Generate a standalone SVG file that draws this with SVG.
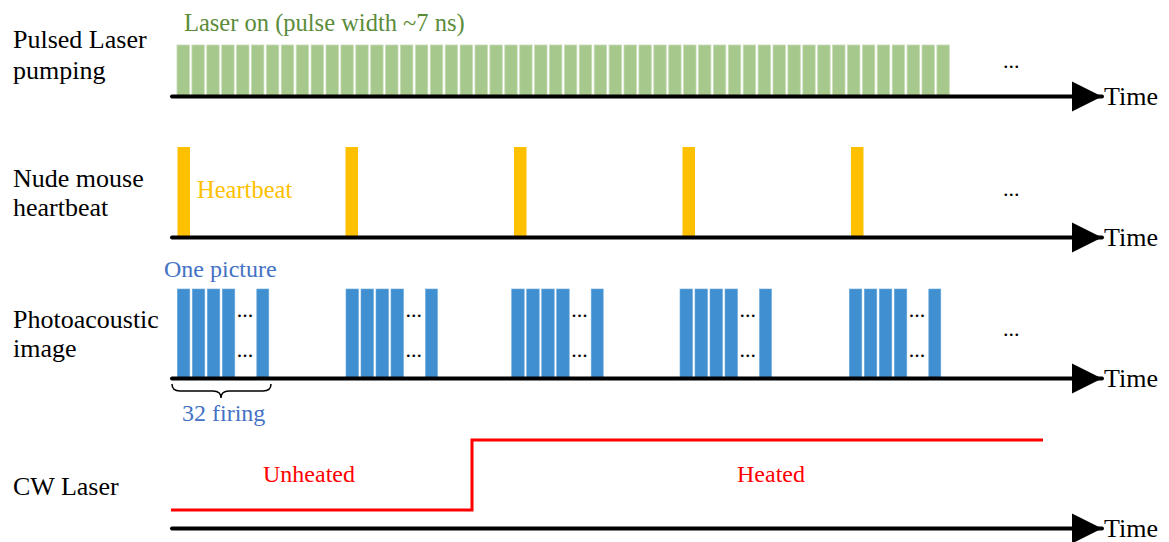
<svg xmlns="http://www.w3.org/2000/svg" width="1169" height="542" viewBox="0 0 1169 542" font-family="Liberation Serif">
<defs>
<style>
.lbl{font-family:"Liberation Serif",serif;font-size:26px;fill:#000}
.dots{font-family:"Liberation Serif",serif;font-size:22px;fill:#000}
.grn{font-family:"Liberation Serif",serif;font-size:24.5px;fill:#5B8C3A}
.org{font-family:"Liberation Serif",serif;font-size:24.5px;fill:#FFC000}
.blu{font-family:"Liberation Serif",serif;font-size:24px;fill:#4472C4}
.rt{font-family:"Liberation Serif",serif;font-size:24px;fill:#FF0000}
.axis{stroke:#000;stroke-width:4;stroke-linecap:round;fill:none}
.g{fill:#A6C88C;stroke:#C6DDB4;stroke-width:0.8}
.o{fill:#FFC000}
.b{fill:#3F8FD1;stroke:#6BA8DC;stroke-width:0.6}
.red{stroke:#FF0000;stroke-width:3;fill:none}
</style>
<marker id="arr" markerUnits="userSpaceOnUse" markerWidth="32" markerHeight="32" refX="30" refY="16" orient="auto">
<path d="M0,1 L30,16 L0,31 Z" fill="#000"/>
</marker>
</defs>
<rect width="1169" height="542" fill="#fff"/>

<g id="pulsed-laser">
<text class="lbl" x="13" y="48">Pulsed Laser</text>
<text class="lbl" x="13" y="79">pumping</text>
<text class="grn" x="184" y="31">Laser on (pulse width ~7 ns)</text>
<g id="pulses">
<rect class="g" y="45" width="12.4" height="51" x="177"/><rect class="g" y="45" width="12.4" height="51" x="191.9"/><rect class="g" y="45" width="12.4" height="51" x="206.8"/><rect class="g" y="45" width="12.4" height="51" x="221.7"/><rect class="g" y="45" width="12.4" height="51" x="236.6"/><rect class="g" y="45" width="12.4" height="51" x="251.5"/><rect class="g" y="45" width="12.4" height="51" x="266.4"/><rect class="g" y="45" width="12.4" height="51" x="281.3"/><rect class="g" y="45" width="12.4" height="51" x="296.2"/><rect class="g" y="45" width="12.4" height="51" x="311.1"/>
<rect class="g" y="45" width="12.4" height="51" x="326"/><rect class="g" y="45" width="12.4" height="51" x="340.9"/><rect class="g" y="45" width="12.4" height="51" x="355.8"/><rect class="g" y="45" width="12.4" height="51" x="370.7"/><rect class="g" y="45" width="12.4" height="51" x="385.6"/><rect class="g" y="45" width="12.4" height="51" x="400.5"/><rect class="g" y="45" width="12.4" height="51" x="415.4"/><rect class="g" y="45" width="12.4" height="51" x="430.3"/><rect class="g" y="45" width="12.4" height="51" x="445.2"/><rect class="g" y="45" width="12.4" height="51" x="460.1"/>
<rect class="g" y="45" width="12.4" height="51" x="475"/><rect class="g" y="45" width="12.4" height="51" x="489.9"/><rect class="g" y="45" width="12.4" height="51" x="504.8"/><rect class="g" y="45" width="12.4" height="51" x="519.7"/><rect class="g" y="45" width="12.4" height="51" x="534.6"/><rect class="g" y="45" width="12.4" height="51" x="549.5"/><rect class="g" y="45" width="12.4" height="51" x="564.4"/><rect class="g" y="45" width="12.4" height="51" x="579.3"/><rect class="g" y="45" width="12.4" height="51" x="594.2"/><rect class="g" y="45" width="12.4" height="51" x="609.1"/>
<rect class="g" y="45" width="12.4" height="51" x="624"/><rect class="g" y="45" width="12.4" height="51" x="638.9"/><rect class="g" y="45" width="12.4" height="51" x="653.8"/><rect class="g" y="45" width="12.4" height="51" x="668.7"/><rect class="g" y="45" width="12.4" height="51" x="683.6"/><rect class="g" y="45" width="12.4" height="51" x="698.5"/><rect class="g" y="45" width="12.4" height="51" x="713.4"/><rect class="g" y="45" width="12.4" height="51" x="728.3"/><rect class="g" y="45" width="12.4" height="51" x="743.2"/><rect class="g" y="45" width="12.4" height="51" x="758.1"/>
<rect class="g" y="45" width="12.4" height="51" x="773"/><rect class="g" y="45" width="12.4" height="51" x="787.9"/><rect class="g" y="45" width="12.4" height="51" x="802.8"/><rect class="g" y="45" width="12.4" height="51" x="817.7"/><rect class="g" y="45" width="12.4" height="51" x="832.6"/><rect class="g" y="45" width="12.4" height="51" x="847.5"/><rect class="g" y="45" width="12.4" height="51" x="862.4"/><rect class="g" y="45" width="12.4" height="51" x="877.3"/><rect class="g" y="45" width="12.4" height="51" x="892.2"/><rect class="g" y="45" width="12.4" height="51" x="907.1"/>
<rect class="g" y="45" width="12.4" height="51" x="922"/><rect class="g" y="45" width="12.4" height="51" x="936.9"/>
</g>
<text class="dots" x="1003" y="68">...</text>
</g>

<g id="heartbeat">
<text class="lbl" x="13" y="187">Nude mouse</text>
<text class="lbl" x="13" y="216">heartbeat</text>
<rect class="o" x="177.5" y="147" width="12.5" height="90"/>
<rect class="o" x="345.5" y="147" width="12.5" height="90"/>
<rect class="o" x="514" y="147" width="12.5" height="90"/>
<rect class="o" x="682.5" y="147" width="12.5" height="90"/>
<rect class="o" x="851" y="147" width="12.5" height="90"/>
<text class="org" x="197" y="198">Heartbeat</text>
<text class="dots" x="1003" y="196">...</text>
</g>

<g id="photoacoustic">
<text class="lbl" x="13" y="328">Photoacoustic</text>
<text class="lbl" x="13" y="357">image</text>
<text class="blu" x="164" y="277">One picture</text>
<g id="picture-1">
<rect class="b" y="289" width="12.5" height="89" x="177.3"/><rect class="b" y="289" width="12.5" height="89" x="192.3"/><rect class="b" y="289" width="12.5" height="89" x="207.3"/><rect class="b" y="289" width="12.5" height="89" x="222.3"/><rect class="b" y="289" width="12" height="89" x="256.8"/>
<text class="dots" x="236.8" y="317">...</text><text class="dots" x="236.8" y="357">...</text>
</g>
<g id="picture-2">
<rect class="b" y="289" width="12.5" height="89" x="346"/><rect class="b" y="289" width="12.5" height="89" x="361"/><rect class="b" y="289" width="12.5" height="89" x="376"/><rect class="b" y="289" width="12.5" height="89" x="391"/><rect class="b" y="289" width="12" height="89" x="425.5"/>
<text class="dots" x="405.5" y="317">...</text><text class="dots" x="405.5" y="357">...</text>
</g>
<g id="picture-3">
<rect class="b" y="289" width="12.5" height="89" x="511.7"/><rect class="b" y="289" width="12.5" height="89" x="526.7"/><rect class="b" y="289" width="12.5" height="89" x="541.7"/><rect class="b" y="289" width="12.5" height="89" x="556.7"/><rect class="b" y="289" width="12" height="89" x="591.2"/>
<text class="dots" x="571.2" y="317">...</text><text class="dots" x="571.2" y="357">...</text>
</g>
<g id="picture-4">
<rect class="b" y="289" width="12.5" height="89" x="680"/><rect class="b" y="289" width="12.5" height="89" x="695"/><rect class="b" y="289" width="12.5" height="89" x="710"/><rect class="b" y="289" width="12.5" height="89" x="725"/><rect class="b" y="289" width="12" height="89" x="759.5"/>
<text class="dots" x="739.5" y="317">...</text><text class="dots" x="739.5" y="357">...</text>
</g>
<g id="picture-5">
<rect class="b" y="289" width="12.5" height="89" x="849.3"/><rect class="b" y="289" width="12.5" height="89" x="864.3"/><rect class="b" y="289" width="12.5" height="89" x="879.3"/><rect class="b" y="289" width="12.5" height="89" x="894.3"/><rect class="b" y="289" width="12" height="89" x="928.8"/>
<text class="dots" x="908.8" y="317">...</text><text class="dots" x="908.8" y="357">...</text>
</g>
<path d="M172,384 Q172,391 180,391 L213,391 Q221,391 221,398 Q221,391 229,391 L263,391 Q271,391 271,384" fill="none" stroke="#000" stroke-width="1.5"/>
<text class="blu" x="182" y="421">32 firing</text>
<text class="dots" x="1003" y="336">...</text>
</g>

<g id="cw-laser">
<text class="lbl" x="13" y="495">CW Laser</text>
<polyline class="red" points="171,510 472,510 472,440 1043,440"/>
<text class="rt" x="263" y="482">Unheated</text>
<text class="rt" x="737" y="482">Heated</text>
</g>

<g id="connectors">
<line class="axis" x1="172" y1="96.5" x2="1102" y2="96.5" marker-end="url(#arr)"/>
<line class="axis" x1="172" y1="237.5" x2="1102" y2="237.5" marker-end="url(#arr)"/>
<line class="axis" x1="172" y1="378.5" x2="1102" y2="378.5" marker-end="url(#arr)"/>
<line class="axis" x1="172" y1="528.5" x2="1102" y2="528.5" marker-end="url(#arr)"/>
</g>

<g id="time-labels">
<text class="lbl" x="1104" y="105">Time</text>
<text class="lbl" x="1104" y="246">Time</text>
<text class="lbl" x="1104" y="387">Time</text>
<text class="lbl" x="1104" y="537">Time</text>
</g>
</svg>
